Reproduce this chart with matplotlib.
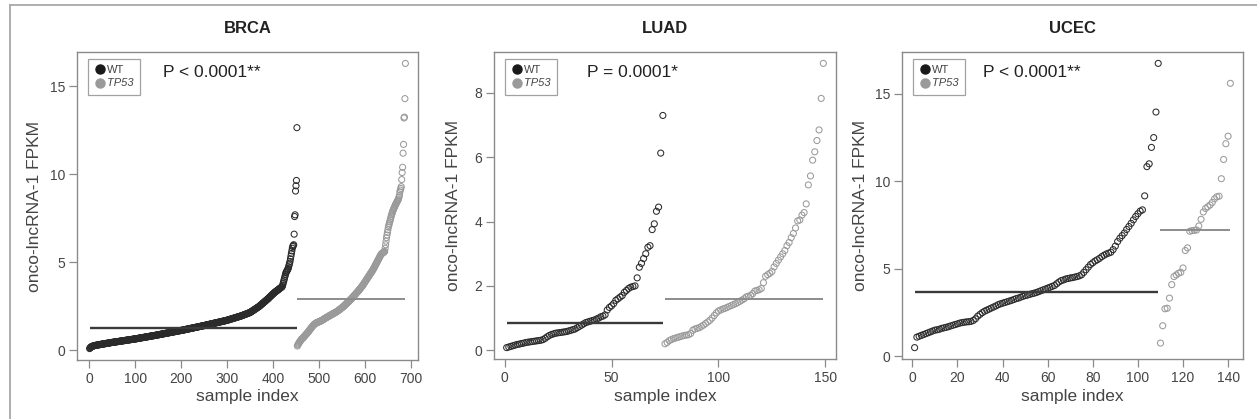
import matplotlib
matplotlib.use("Agg")
import matplotlib.pyplot as plt
from matplotlib.lines import Line2D
import numpy as np

plt.rcParams['font.family'] = ['Liberation Sans', 'DejaVu Sans']

# sorted onco-lncRNA-1 FPKM values
brca_wt = [
    0.10, 0.14, 0.17, 0.19, 0.21, 0.22, 0.23, 0.24, 0.25, 0.26,
    0.27, 0.27, 0.28, 0.28, 0.29, 0.29, 0.30, 0.30, 0.31, 0.31,
    0.32, 0.32, 0.33, 0.33, 0.34, 0.34, 0.35, 0.35, 0.36, 0.36,
    0.36, 0.37, 0.37, 0.38, 0.38, 0.39, 0.39, 0.40, 0.40, 0.41,
    0.41, 0.41, 0.42, 0.42, 0.43, 0.43, 0.44, 0.44, 0.45, 0.45,
    0.45, 0.46, 0.46, 0.47, 0.47, 0.47, 0.48, 0.48, 0.49, 0.49,
    0.49, 0.50, 0.50, 0.51, 0.51, 0.51, 0.52, 0.52, 0.53, 0.53,
    0.53, 0.54, 0.54, 0.55, 0.55, 0.55, 0.56, 0.56, 0.57, 0.57,
    0.57, 0.58, 0.58, 0.59, 0.59, 0.59, 0.60, 0.60, 0.61, 0.61,
    0.61, 0.62, 0.62, 0.63, 0.63, 0.63, 0.64, 0.64, 0.65, 0.65,
    0.65, 0.66, 0.66, 0.67, 0.67, 0.68, 0.68, 0.69, 0.69, 0.70,
    0.70, 0.71, 0.71, 0.72, 0.72, 0.72, 0.73, 0.73, 0.74, 0.74,
    0.75, 0.75, 0.76, 0.76, 0.77, 0.77, 0.77, 0.78, 0.78, 0.79,
    0.79, 0.80, 0.80, 0.81, 0.81, 0.82, 0.82, 0.83, 0.83, 0.83,
    0.84, 0.84, 0.85, 0.85, 0.86, 0.86, 0.87, 0.87, 0.88, 0.88,
    0.89, 0.89, 0.90, 0.90, 0.91, 0.91, 0.92, 0.92, 0.93, 0.93,
    0.94, 0.94, 0.95, 0.95, 0.96, 0.96, 0.97, 0.97, 0.98, 0.98,
    0.99, 0.99, 1.00, 1.00, 1.01, 1.01, 1.02, 1.02, 1.03, 1.03,
    1.04, 1.04, 1.05, 1.05, 1.06, 1.06, 1.07, 1.07, 1.08, 1.08,
    1.09, 1.09, 1.10, 1.10, 1.11, 1.11, 1.12, 1.12, 1.13, 1.13,
    1.14, 1.14, 1.15, 1.15, 1.16, 1.16, 1.17, 1.17, 1.18, 1.19,
    1.19, 1.20, 1.20, 1.21, 1.21, 1.22, 1.22, 1.23, 1.24, 1.24,
    1.25, 1.25, 1.26, 1.26, 1.27, 1.27, 1.28, 1.29, 1.29, 1.30,
    1.30, 1.31, 1.31, 1.32, 1.32, 1.33, 1.34, 1.34, 1.35, 1.35,
    1.36, 1.36, 1.37, 1.37, 1.38, 1.39, 1.39, 1.40, 1.40, 1.41,
    1.41, 1.42, 1.43, 1.43, 1.44, 1.44, 1.45, 1.46, 1.46, 1.47,
    1.47, 1.48, 1.49, 1.49, 1.50, 1.50, 1.51, 1.52, 1.52, 1.53,
    1.53, 1.54, 1.55, 1.55, 1.56, 1.56, 1.57, 1.58, 1.58, 1.59,
    1.59, 1.60, 1.61, 1.61, 1.62, 1.62, 1.63, 1.64, 1.64, 1.65,
    1.65, 1.66, 1.67, 1.67, 1.68, 1.68, 1.69, 1.70, 1.70, 1.71,
    1.72, 1.73, 1.73, 1.74, 1.75, 1.76, 1.77, 1.77, 1.78, 1.79,
    1.80, 1.81, 1.81, 1.82, 1.83, 1.84, 1.85, 1.85, 1.86, 1.87,
    1.88, 1.89, 1.89, 1.90, 1.91, 1.92, 1.93, 1.93, 1.94, 1.95,
    1.96, 1.97, 1.98, 1.99, 2.00, 2.01, 2.02, 2.03, 2.04, 2.05,
    2.06, 2.07, 2.08, 2.09, 2.10, 2.11, 2.12, 2.13, 2.14, 2.15,
    2.17, 2.18, 2.20, 2.22, 2.24, 2.25, 2.27, 2.29, 2.31, 2.32,
    2.34, 2.36, 2.38, 2.39, 2.41, 2.43, 2.45, 2.46, 2.48, 2.50,
    2.52, 2.55, 2.57, 2.59, 2.61, 2.64, 2.66, 2.68, 2.70, 2.73,
    2.75, 2.77, 2.79, 2.82, 2.84, 2.86, 2.88, 2.91, 2.93, 2.95,
    2.98, 3.01, 3.03, 3.06, 3.08, 3.11, 3.13, 3.16, 3.18, 3.21,
    3.23, 3.25, 3.28, 3.30, 3.32, 3.34, 3.36, 3.38, 3.40, 3.42,
    3.44, 3.46, 3.48, 3.50, 3.52, 3.54, 3.56, 3.58, 3.60, 3.62,
    3.70, 3.80, 3.90, 4.00, 4.10, 4.20, 4.30, 4.40, 4.45, 4.50,
    4.55, 4.60, 4.65, 4.75, 4.85, 4.95, 5.05, 5.20, 5.35, 5.50,
    5.65, 5.80, 5.90, 5.95, 6.00, 6.60, 7.60, 7.70, 9.05, 9.35,
    9.65, 12.65,
]
brca_tp53 = [
    0.25, 0.30, 0.35, 0.40, 0.45, 0.48, 0.52, 0.55, 0.60, 0.63,
    0.66, 0.68, 0.70, 0.73, 0.76, 0.79, 0.82, 0.85, 0.88, 0.91,
    0.94, 0.97, 1.00, 1.03, 1.06, 1.10, 1.13, 1.17, 1.20, 1.24,
    1.27, 1.31, 1.34, 1.37, 1.40, 1.43, 1.46, 1.48, 1.50, 1.52,
    1.54, 1.55, 1.57, 1.58, 1.59, 1.60, 1.61, 1.62, 1.64, 1.65,
    1.66, 1.67, 1.68, 1.70, 1.71, 1.73, 1.74, 1.76, 1.78, 1.80,
    1.81, 1.83, 1.85, 1.86, 1.88, 1.89, 1.91, 1.92, 1.94, 1.95,
    1.97, 1.98, 2.00, 2.01, 2.03, 2.04, 2.06, 2.07, 2.08, 2.10,
    2.11, 2.13, 2.14, 2.16, 2.17, 2.19, 2.21, 2.22, 2.24, 2.26,
    2.28, 2.30, 2.32, 2.34, 2.36, 2.38, 2.40, 2.42, 2.44, 2.46,
    2.48, 2.51, 2.53, 2.56, 2.58, 2.61, 2.63, 2.66, 2.68, 2.71,
    2.73, 2.76, 2.78, 2.81, 2.84, 2.86, 2.89, 2.92, 2.94, 2.97,
    3.00, 3.03, 3.06, 3.09, 3.12, 3.15, 3.18, 3.21, 3.24, 3.27,
    3.30, 3.33, 3.36, 3.39, 3.42, 3.45, 3.48, 3.52, 3.55, 3.58,
    3.62, 3.65, 3.69, 3.72, 3.76, 3.80, 3.84, 3.88, 3.92, 3.96,
    4.00, 4.04, 4.08, 4.12, 4.16, 4.20, 4.24, 4.28, 4.32, 4.36,
    4.40, 4.44, 4.48, 4.52, 4.56, 4.60, 4.65, 4.70, 4.75, 4.80,
    4.85, 4.90, 4.95, 5.00, 5.05, 5.10, 5.15, 5.20, 5.25, 5.30,
    5.35, 5.40, 5.45, 5.48, 5.50, 5.52, 5.54, 5.56, 5.58, 5.60,
    5.62, 5.80, 6.00, 6.20, 6.40, 6.55, 6.70, 6.85, 7.00, 7.10,
    7.20, 7.30, 7.40, 7.50, 7.60, 7.70, 7.78, 7.86, 7.94, 8.00,
    8.06, 8.12, 8.18, 8.24, 8.30, 8.35, 8.40, 8.45, 8.50, 8.55,
    8.60, 8.70, 8.80, 9.00, 9.10, 9.20, 9.30, 9.70, 10.10, 10.40,
    11.20, 11.70, 13.20, 13.25, 14.30, 16.30,
]

luad_wt = [
    0.08, 0.10, 0.12, 0.14, 0.16, 0.18, 0.19, 0.21, 0.22, 0.24,
    0.25, 0.26, 0.27, 0.28, 0.29, 0.30, 0.31, 0.33, 0.37, 0.42,
    0.46, 0.49, 0.51, 0.53, 0.54, 0.55, 0.56, 0.57, 0.58, 0.60,
    0.62, 0.64, 0.66, 0.70, 0.74, 0.78, 0.82, 0.86, 0.88, 0.90,
    0.92, 0.94, 0.97, 1.00, 1.04, 1.06, 1.10, 1.25, 1.33, 1.38,
    1.45, 1.55, 1.60, 1.65, 1.70, 1.80, 1.86, 1.92, 1.96, 1.98,
    2.00, 2.25, 2.58, 2.70, 2.85, 3.00, 3.20, 3.25, 3.75, 3.93,
    4.32, 4.45, 6.13, 7.30,
]
luad_tp53 = [
    0.20, 0.24, 0.30, 0.33, 0.36, 0.38, 0.40, 0.42, 0.44, 0.46,
    0.47, 0.48, 0.52, 0.62, 0.66, 0.68, 0.70, 0.74, 0.78, 0.83,
    0.88, 0.93, 1.00, 1.08, 1.16, 1.22, 1.25, 1.28, 1.30, 1.33,
    1.36, 1.39, 1.42, 1.45, 1.48, 1.52, 1.56, 1.60, 1.66, 1.68,
    1.70, 1.76, 1.84, 1.86, 1.88, 1.92, 2.10, 2.30, 2.35, 2.39,
    2.45, 2.59, 2.70, 2.80, 2.90, 3.00, 3.10, 3.25, 3.35, 3.50,
    3.63, 3.80, 4.02, 4.05, 4.20, 4.28, 4.55, 5.14, 5.42, 5.91,
    6.17, 6.52, 6.85, 7.83, 8.92,
]

ucec_wt = [
    0.50, 1.10, 1.15, 1.20, 1.25, 1.30, 1.35, 1.40, 1.45, 1.50,
    1.52, 1.55, 1.60, 1.63, 1.66, 1.70, 1.74, 1.78, 1.82, 1.86,
    1.90, 1.93, 1.95, 1.97, 1.98, 2.00, 2.05, 2.15, 2.30, 2.40,
    2.50, 2.58, 2.64, 2.70, 2.76, 2.82, 2.88, 2.95, 3.00, 3.04,
    3.08, 3.12, 3.16, 3.20, 3.25, 3.30, 3.33, 3.38, 3.43, 3.47,
    3.50, 3.54, 3.58, 3.61, 3.65, 3.70, 3.75, 3.80, 3.85, 3.90,
    3.95, 4.00, 4.05, 4.15, 4.25, 4.33, 4.37, 4.42, 4.45, 4.48,
    4.50, 4.53, 4.56, 4.60, 4.66, 4.80, 4.95, 5.10, 5.25, 5.35,
    5.45, 5.52, 5.60, 5.70, 5.78, 5.85, 5.90, 5.95, 6.10, 6.30,
    6.56, 6.75, 6.90, 7.05, 7.25, 7.42, 7.60, 7.80, 7.99, 8.15,
    8.30, 8.37, 9.17, 10.84, 11.00, 11.94, 12.50, 13.96, 16.74,
]
ucec_tp53 = [
    0.76, 1.75, 2.72, 2.75, 3.33, 4.10, 4.56, 4.65, 4.75, 4.80,
    5.05, 6.05, 6.20, 7.15, 7.18, 7.20, 7.22, 7.45, 7.83, 8.25,
    8.45, 8.55, 8.65, 8.80, 9.00, 9.12, 9.15, 10.15, 11.25, 12.15,
    12.58, 15.60,
]

cancers = ['BRCA', 'LUAD', 'UCEC']
wt_data = [brca_wt, luad_wt, ucec_wt]
tp53_data = [brca_tp53, luad_tp53, ucec_tp53]
p_labels = ['P < 0.0001**', 'P = 0.0001*', 'P < 0.0001**']
x_ticks = [[0, 100, 200, 300, 400, 500, 600, 700], [0, 50, 100, 150],
           [0, 20, 40, 60, 80, 100, 120, 140]]
y_ticks = [[0, 5, 10, 15], [0, 2, 4, 6, 8], [0, 5, 10, 15]]

W, H = 1257, 419
boxes = [(77, 52, 418, 360), (494, 52, 836, 359), (902, 52, 1243, 359)]
p_x = [0.252, 0.271, 0.237]
ylab_x = [42, 461, 868]

wt_col = '#2b2b2b'
tp_col = '#9a9a9a'
axis_col = '#8a8a8a'
text_col = '#454545'

fig = plt.figure(figsize=(W / 100, H / 100), dpi=100)
fig.patch.set_facecolor('white')

for i in range(3):
    x0, y0, x1, y1 = boxes[i]
    ax = fig.add_axes([x0 / W, 1 - y1 / H, (x1 - x0) / W, (y1 - y0) / H])
    wt = np.array(wt_data[i])
    tp = np.array(tp53_data[i])
    n_wt, n_tp = len(wt), len(tp)
    xi_wt = np.arange(1, n_wt + 1)
    xi_tp = np.arange(n_wt + 1, n_wt + n_tp + 1)

    ax.scatter(xi_wt, wt, s=19, facecolors='none', edgecolors=wt_col,
               linewidths=0.75, zorder=3)
    ax.scatter(xi_tp, tp, s=19, facecolors='none', edgecolors=tp_col,
               linewidths=0.75, zorder=3)
    ax.hlines(np.median(wt), xi_wt[0], xi_wt[-1], color='#3a3a3a', lw=1.7, zorder=4)
    ax.hlines(np.median(tp), xi_tp[0], xi_tp[-1], color='#8c8c8c', lw=1.4, zorder=4)

    # R-style 4% padding
    n = n_wt + n_tp
    xpad = (n - 1) * 0.04
    ax.set_xlim(1 - xpad, n + xpad)
    allv = np.concatenate([wt, tp])
    ypad = (allv.max() - allv.min()) * 0.04
    ax.set_ylim(allv.min() - ypad, allv.max() + ypad)

    ax.set_xticks(x_ticks[i])
    ax.set_yticks(y_ticks[i])
    for s in ax.spines.values():
        s.set_color(axis_col)
        s.set_linewidth(1.0)
    ax.tick_params(direction='out', length=6, width=0.9, color=axis_col,
                   labelsize=10, labelcolor=text_col, pad=2.5)

    ax.set_title(cancers[i], fontsize=12, fontweight='bold', color='#222222', pad=14)
    ax.set_xlabel('sample index', fontsize=12.5, color=text_col)
    ax.xaxis.set_label_coords(0.5, -(389 - y1) / (y1 - y0))
    ax.set_ylabel('onco-lncRNA-1 FPKM', fontsize=12.5, color=text_col)
    ax.yaxis.set_label_coords(-(x0 - ylab_x[i]) / (x1 - x0), 0.5)

    ax.text(p_x[i], 0.932, p_labels[i], transform=ax.transAxes, fontsize=12.5,
            color='#222222', ha='left', va='center')

    handles = [
        Line2D([], [], marker='o', ls='none', color='#1a1a1a', markersize=6.5),
        Line2D([], [], marker='o', ls='none', color='#9a9a9a', markersize=6.5),
    ]
    leg = ax.legend(handles, ['WT', 'TP53'], loc='upper left',
                    bbox_to_anchor=(11 / (x1 - x0), 1 - 7 / (y1 - y0)),
                    borderaxespad=0, fontsize=8, frameon=True, fancybox=False,
                    handletextpad=0.2, handlelength=1.0, borderpad=0.55,
                    labelspacing=0.3)
    leg.get_frame().set_edgecolor(axis_col)
    leg.get_frame().set_linewidth(0.9)
    leg.get_texts()[1].set_fontstyle('italic')
    for t in leg.get_texts():
        t.set_color('#444444')

# thin grey frame at the top and left edge of the figure
fig.add_artist(Line2D([9.5 / W, 1], [1 - 5.5 / H, 1 - 5.5 / H], color='#a8a8a8', lw=1.3))
fig.add_artist(Line2D([9.5 / W, 9.5 / W], [1 - 5.5 / H, 0], color='#a8a8a8', lw=1.3))

fig.savefig('out.png', dpi=100)
